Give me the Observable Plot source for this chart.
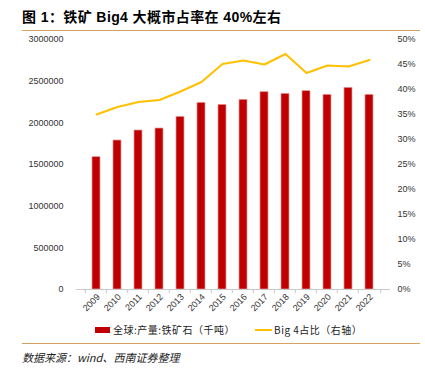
<!DOCTYPE html>
<html><head><meta charset="utf-8">
<script src="https://cdn.jsdelivr.net/npm/d3@7"></script>
<script src="https://cdn.jsdelivr.net/npm/@observablehq/plot@0.6"></script>
<style>
body{margin:0;background:#fff;}
#wrap{position:relative;width:425px;height:368px;overflow:hidden;font-family:"Liberation Sans",Arial,sans-serif;}
#title{position:absolute;left:22px;top:6px;font-family:"Liberation Sans","Noto Sans CJK SC",sans-serif;font-weight:bold;font-size:14px;letter-spacing:0.4px;color:#000;}
.hr{position:absolute;left:22px;width:398px;height:0;border-top:1.3px solid #d4a262;}
#chart{position:absolute;left:0;top:34px;}
#legend{position:absolute;top:322px;left:95px;font-family:"Noto Sans CJK SC",sans-serif;font-size:10px;letter-spacing:0.5px;color:#222;display:flex;align-items:center;}
#source{position:absolute;left:22px;top:349px;font-family:"Noto Sans CJK SC",sans-serif;font-style:italic;font-size:11px;color:#222;}
</style></head>
<body><div id="wrap">
<div id="title">图 1：铁矿 Big4 大概市占率在 40%左右</div>
<div class="hr" style="top:30px"></div>
<div id="chart"></div>
<div id="legend">
<span style="display:inline-block;width:15px;height:6px;background:#c00000;margin-right:3px"></span><span>全球:产量:铁矿石（千吨）</span>
<span style="display:inline-block;width:17px;height:0;border-top:2px solid #ffc000;margin-left:20px;margin-right:2px"></span><span>Big 4占比（右轴）</span>
</div>
<div class="hr" style="top:343px"></div>
<div id="source">数据来源：wind、西南证券整理</div>
</div>
<script>
const years = ["2009","2010","2011","2012","2013","2014","2015","2016","2017","2018","2019","2020","2021","2022"];
const output = [1588000,1788000,1908000,1932000,2072000,2240000,2216000,2276000,2368000,2348000,2380000,2336000,2420000,2336000];
const big4Share = [35.0,36.5,37.5,37.9,39.6,41.5,45.1,45.8,45.0,47.1,43.3,44.8,44.6,45.9];
const leftTicks = [0,500000,1000000,1500000,2000000,2500000,3000000];
const rightTicks = [0,5,10,15,20,25,30,35,40,45,50];

const k = 3000000/50;
const rows = years.map((y,i)=>({year:y, output:output[i], share:big4Share[i]}));

const chart = Plot.plot({
  width:425, height:285,
  marginLeft:76, marginRight:35, marginTop:5, marginBottom:30,
  style:{fontFamily:"Liberation Sans, Arial, sans-serif", fontSize:"9px", color:"#333"},
  x:{domain:years, padding:0.6, label:null},
  y:{domain:[0,3000000], label:null},
  marks:[
    Plot.axisY(leftTicks,{anchor:"left", tickSize:0, tickPadding:13, tickFormat:d=>String(d), label:null}),
    Plot.axisY(rightTicks.map(p=>p*k),{anchor:"right", tickSize:0, tickPadding:7, tickFormat:v=>Math.round(v/k)+"%", label:null}),
    Plot.axisX({tickRotate:-45, tickSize:0, tickPadding:6, dx:2, label:null}),
    Plot.barY(rows,{x:"year", y:"output", fill:"#c00000", stroke:"#e89a9a", strokeWidth:0.7}),
    Plot.ruleY([0],{stroke:"#c8c8c8", strokeWidth:1}),
    Plot.ruleX(years,{x:d=>d, y1:0, y2:-50000, dx:-11.2, stroke:"#c8c8c8"}),
    Plot.ruleX([years[years.length-1]],{x:d=>d, y1:0, y2:-50000, dx:11.2, stroke:"#c8c8c8"}),
    Plot.lineY(rows,{x:"year", y:d=>d.share*k, stroke:"#ffc000", strokeWidth:2})
  ]
});
document.getElementById("chart").appendChild(chart);
</script>
</body></html>
